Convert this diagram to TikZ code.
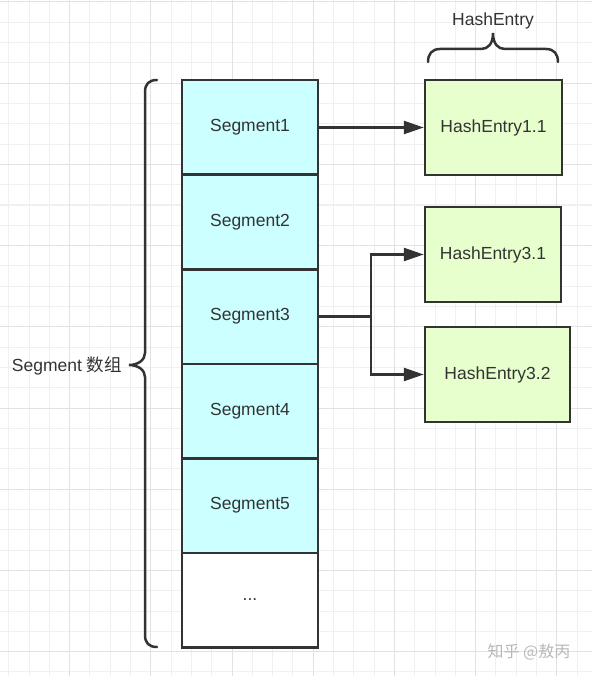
\documentclass[tikz,border=0pt]{standalone}
\usepackage{fontspec}
\setmainfont{Liberation Sans}
\newfontfamily\cjk{Noto Sans CJK SC}
\usetikzlibrary{arrows.meta}
\definecolor{ink}{HTML}{333333}
\definecolor{segfill}{HTML}{CCFFFF}
\definecolor{hashfill}{HTML}{E6FFCC}
\definecolor{gridminor}{HTML}{F0F0F0}
\definecolor{gridmajor}{HTML}{E2E2E2}
\tikzset{
  segbox/.style={draw=ink,line width=2.5pt,fill=segfill,minimum width=136pt,minimum height=94.5pt,inner sep=0pt,text=ink,font=\fontsize{17.5}{20}\selectfont},
  hashbox/.style={draw=ink,line width=2.5pt,fill=hashfill,minimum height=95pt,inner sep=0pt,text=ink,font=\fontsize{17.5}{20}\selectfont},
  conn/.style={draw=ink,line width=2.5pt},
  arr/.style={conn,-{Triangle[length=20pt,width=13pt]}},
  bracestyle/.style={draw=ink,line width=2.5pt,line cap=round},
  lbl/.style={text=ink,font=\fontsize{17.5}{20}\selectfont,inner sep=0pt}
}
\begin{document}
\begin{tikzpicture}[x=1pt,y=-1pt]
\useasboundingbox (0,0) rectangle (592,676);
\fill[white] (0,0) rectangle (592,676);
% grid
\foreach \k in {0,...,29} {
  \pgfmathsetmacro{\xx}{8.7+20.3*\k}
  \draw[gridminor,line width=1pt] (\xx,0) -- (\xx,676);
}
\foreach \k in {0,...,33} {
  \pgfmathsetmacro{\yy}{2+20.3*\k}
  \draw[gridminor,line width=1pt] (0,\yy) -- (592,\yy);
}
\foreach \k in {0,...,7} {
  \pgfmathsetmacro{\xx}{69.6+81.2*\k}
  \draw[gridmajor,line width=1pt] (\xx,0) -- (\xx,676);
}
\foreach \k in {0,...,8} {
  \pgfmathsetmacro{\yy}{2+81.2*\k}
  \draw[gridmajor,line width=1pt] (0,\yy) -- (592,\yy);
}
% segments
\node[segbox] (s1) at (250,127.5) {Segment1};
\node[segbox] (s2) at (250,222) {Segment2};
\node[segbox] (s3) at (250,316.5) {Segment3};
\node[segbox] (s4) at (250,411) {Segment4};
\node[segbox] (s5) at (250,505.5) {Segment5};
\node[segbox,fill=white] (s6) at (250,600) {...};
% hash entries
\node[hashbox,minimum width=137pt] (h11) at (493.5,127.5) {HashEntry1.1};
\node[hashbox,minimum width=136pt] (h31) at (493,254.5) {HashEntry3.1};
\node[hashbox,minimum width=145pt] (h32) at (497.5,374.5) {HashEntry3.2};
% connectors
\draw[arr] (s1.east) -- (h11.west);
\coordinate (j) at (371,316.5);
\draw[conn] (s3.east) -- (j);
\draw[arr] (j) |- (h31.west);
\draw[arr] (j) |- (h32.west);
% left brace
\draw[bracestyle] (157,80) .. controls (149,80) and (145,84) .. (145,92)
  -- (145,353) .. controls (145,360) and (138,365) .. (129,365)
  .. controls (138,365) and (145,370) .. (145,377)
  -- (145,635) .. controls (145,643) and (149,647) .. (157,647);
\node[lbl,anchor=east] (segarr) at (122,366) {Segment {\cjk 数组}};
% top brace
\draw[bracestyle] (428,62) .. controls (428,54) and (432,49) .. (440,49)
  -- (481,49) .. controls (488,49) and (493,44) .. (493,33)
  .. controls (493,44) and (498,49) .. (505,49)
  -- (546,49) .. controls (554,49) and (558,54) .. (558,62);
\node[lbl] (hetitle) at (493,21) {HashEntry};
% watermark
\node[text=black!28,font=\cjk\fontsize{16}{18}\selectfont,inner sep=0pt] (wm) at (529,652) {知乎 @敖丙};
\end{tikzpicture}
\end{document}
